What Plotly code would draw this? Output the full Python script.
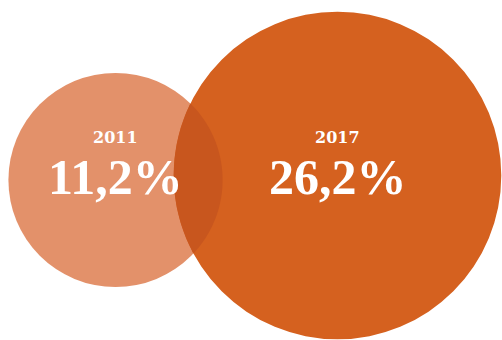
import math
import plotly.graph_objects as go

# ---- data ----
years = ["2011", "2017"]
values = [11.2, 26.2]
value_labels = ["11,2%", "26,2%"]

# ---- layout / style ----
W, H = 502, 340
centers_x = [115.5, 337.5]
centers_y = [180, 175.5]
scale = 32.0  # radius = scale * sqrt(value)
fills = ["#E3916A", "#D5611F"]
overlap_fill = "#C8561E"
label_y = 137
value_y = 177

fig = go.Figure()
fig.add_trace(go.Scatter(x=centers_x, y=centers_y, mode="markers",
                         marker=dict(size=1, opacity=0), hoverinfo="skip",
                         showlegend=False))

radii = [scale * math.sqrt(v) for v in values]
shapes = []
annotations = []
for i, (yr, lab) in enumerate(zip(years, value_labels)):
    r = radii[i]
    cx, cy = centers_x[i], centers_y[i]
    shapes.append(dict(type="circle", xref="x", yref="y",
                       x0=cx - r, x1=cx + r, y0=cy - r, y1=cy + r,
                       fillcolor=fills[i], line=dict(width=0), layer="below"))
    annotations.append(dict(x=cx, y=label_y, xref="x", yref="y", text="<b>" + yr + "</b>",
                            showarrow=False, xanchor="center", yanchor="middle",
                            font=dict(family="DejaVu Serif", size=16, color="#FFFFFF")))
    annotations.append(dict(x=cx, y=value_y, xref="x", yref="y", text="<b>" + lab + "</b>",
                            showarrow=False, xanchor="center", yanchor="middle",
                            font=dict(family="Liberation Serif", size=50, color="#FFFFFF")))

# overlap lens (darker blend), built from the two circles' geometry
(x1, y1), (x2, y2) = (centers_x[0], centers_y[0]), (centers_x[1], centers_y[1])
r1, r2 = radii
d = math.hypot(x2 - x1, y2 - y1)
a = (r1**2 - r2**2 + d**2) / (2 * d)
h = math.sqrt(max(r1**2 - a**2, 0))
ux, uy = (x2 - x1) / d, (y2 - y1) / d
px, py = x1 + a * ux, y1 + a * uy
pA = (px - h * uy, py + h * ux)
pB = (px + h * uy, py - h * ux)


def arc_pts(cx, cy, r, p_start, p_end, n=60, inner_dir=1):
    t0 = math.atan2(p_start[1] - cy, p_start[0] - cx)
    t1 = math.atan2(p_end[1] - cy, p_end[0] - cx)
    # choose the shorter arc
    dt = t1 - t0
    while dt > math.pi:
        dt -= 2 * math.pi
    while dt < -math.pi:
        dt += 2 * math.pi
    return [(cx + r * math.cos(t0 + dt * k / n), cy + r * math.sin(t0 + dt * k / n)) for k in range(n + 1)]


pts = arc_pts(x1, y1, r1, pA, pB) + arc_pts(x2, y2, r2, pB, pA)
path = "M " + " L ".join(f"{x:.2f},{y:.2f}" for x, y in pts) + " Z"
shapes.append(dict(type="path", xref="x", yref="y", path=path,
                   fillcolor=overlap_fill, line=dict(width=0), layer="below"))

fig.update_layout(
    width=W, height=H,
    margin=dict(l=0, r=0, t=0, b=0),
    paper_bgcolor="white", plot_bgcolor="white",
    xaxis=dict(range=[0, W], visible=False, fixedrange=True),
    yaxis=dict(range=[H, 0], visible=False, fixedrange=True),
    shapes=shapes, annotations=annotations,
    showlegend=False,
)

fig.write_html("out.html", config={"displayModeBar": False})
